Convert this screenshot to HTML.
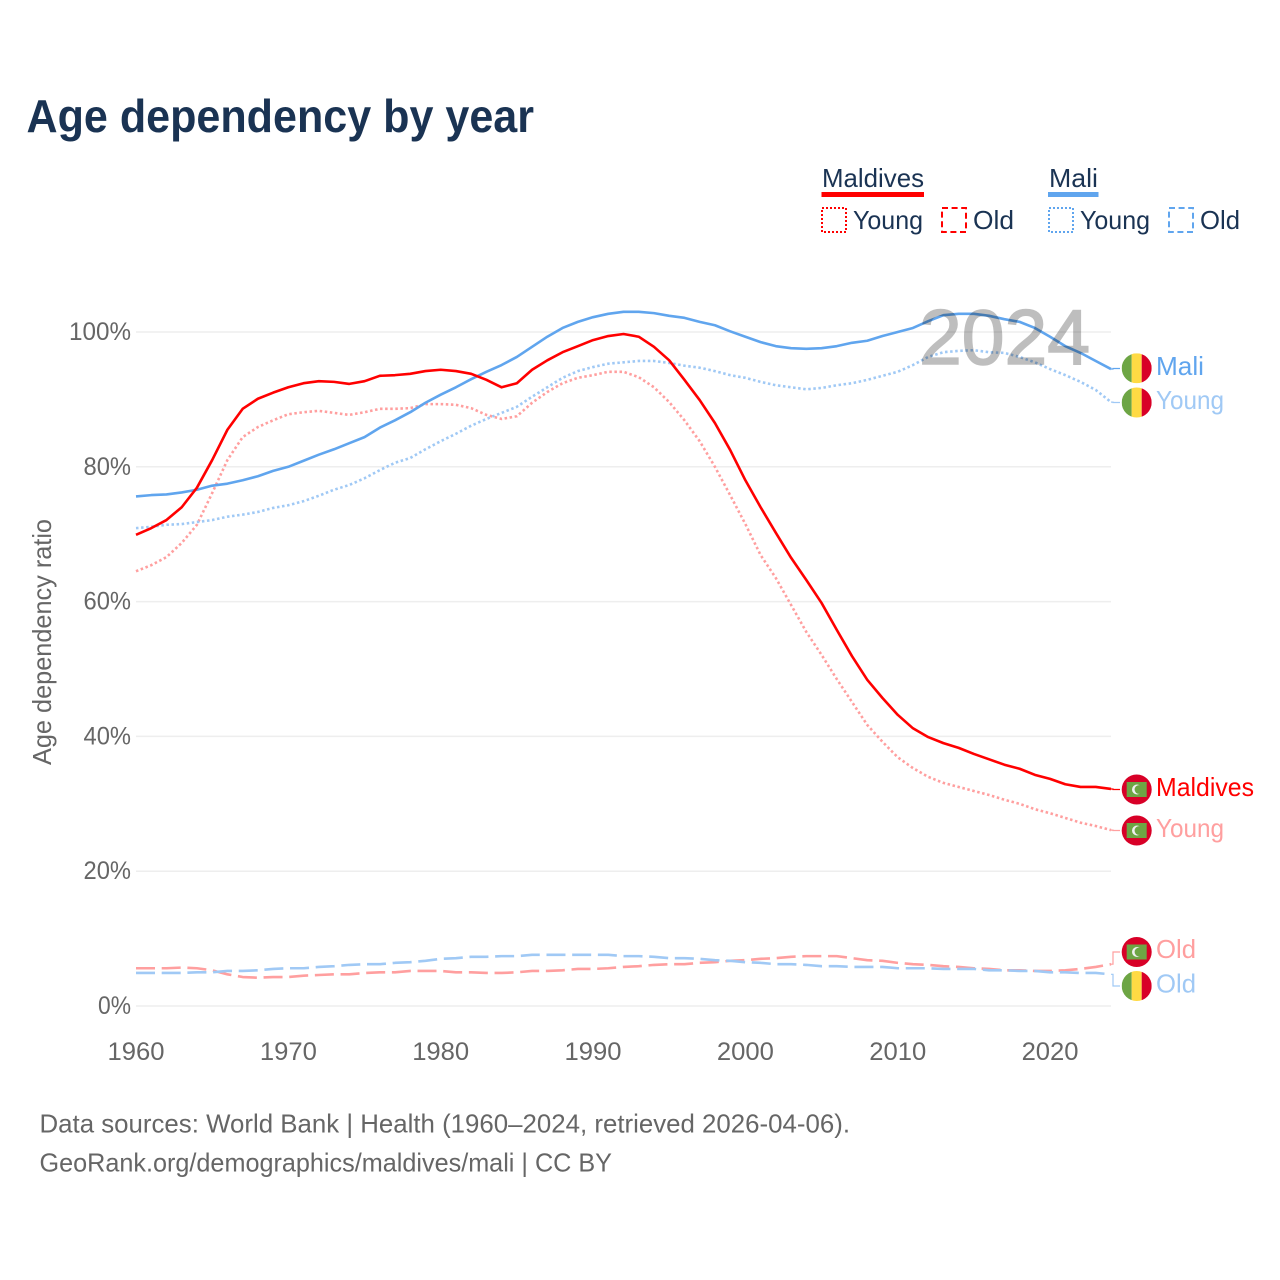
<!DOCTYPE html>
<html lang="en">
<head>
<meta charset="utf-8">
<title>Age dependency by year</title>
<style>
html,body{margin:0;padding:0;background:#fff;}
svg{display:block;font-family:"Liberation Sans",Arial,sans-serif;}
</style>
</head>
<body>
<svg id="chart" xmlns="http://www.w3.org/2000/svg" width="1280" height="1280" viewBox="0 0 1280 1280">
  <defs>
    <symbol id="flag-mali" viewBox="-15 -15 30 30" overflow="visible">
      <clipPath id="flag-clip"><circle cx="0" cy="0" r="15"/></clipPath>
      <g clip-path="url(#flag-clip)">
        <rect x="-15" y="-15" width="10" height="30" fill="#6da544"/>
        <rect x="-5" y="-15" width="10" height="30" fill="#ffda44"/>
        <rect x="5" y="-15" width="10" height="30" fill="#d80027"/>
      </g>
    </symbol>
    <symbol id="flag-maldives" viewBox="-15 -15 30 30" overflow="visible">
      <circle cx="0" cy="0" r="15" fill="#d80027"/>
      <rect x="-10" y="-7.5" width="20" height="15" fill="#6da544"/>
      <circle cx="0.3" cy="0" r="5" fill="#f0f0f0"/>
      <circle cx="2.3" cy="0" r="4.4" fill="#6da544"/>
    </symbol>
  </defs>

  <rect x="0" y="0" width="1280" height="1280" fill="#fff"/>

  <text x="26.5" y="132" font-size="46" font-weight="700" fill="#1a3353" textLength="507.5" lengthAdjust="spacingAndGlyphs">Age dependency by year</text>

  <g font-size="26" fill="#1a3353">
    <text x="822" y="187" textLength="102" lengthAdjust="spacingAndGlyphs">Maldives</text>
    <rect x="821.5" y="192" width="102.5" height="5" fill="#ff0000"/>
    <rect x="822" y="208" width="24" height="24" fill="none" stroke="#ff0000" stroke-width="2" stroke-dasharray="2 2"/>
    <text x="853" y="229" textLength="70" lengthAdjust="spacingAndGlyphs">Young</text>
    <rect x="942" y="208" width="24" height="24" fill="none" stroke="#ff0000" stroke-width="2" stroke-dasharray="6 3.6"/>
    <text x="973" y="229" textLength="41" lengthAdjust="spacingAndGlyphs">Old</text>

    <text x="1049" y="187" textLength="49" lengthAdjust="spacingAndGlyphs">Mali</text>
    <rect x="1048" y="192" width="50.5" height="5" fill="#60a5ee"/>
    <rect x="1049" y="208" width="24" height="24" fill="none" stroke="#60a5ee" stroke-width="2" stroke-dasharray="2 2"/>
    <text x="1080" y="229" textLength="70" lengthAdjust="spacingAndGlyphs">Young</text>
    <rect x="1169" y="208" width="24" height="24" fill="none" stroke="#60a5ee" stroke-width="2" stroke-dasharray="6 3.6"/>
    <text x="1200" y="229" textLength="40" lengthAdjust="spacingAndGlyphs">Old</text>
  </g>

  <g id="grid"></g>
  <g id="ylabels"></g>
  <g id="xlabels"></g>
  <text transform="translate(51,642) rotate(-90)" text-anchor="middle" font-size="26" fill="#666666" textLength="246" lengthAdjust="spacingAndGlyphs">Age dependency ratio</text>

  <g id="series"></g>
  <g id="connectors"></g>

  <g opacity="0.25">
    <text x="919" y="364" font-size="78" font-weight="400" fill="#000000" stroke="#000000" stroke-width="1.6" textLength="171" lengthAdjust="spacingAndGlyphs">2024</text>
  </g>

  <g font-size="26">
    <use href="#flag-mali" x="1121.7" y="353.3" width="30" height="30"/>
    <text x="1156" y="375" fill="#60a5ee" textLength="48" lengthAdjust="spacingAndGlyphs">Mali</text>
    <use href="#flag-mali" x="1121.7" y="387.5" width="30" height="30"/>
    <text x="1156" y="409" fill="#a0c9f5" textLength="68" lengthAdjust="spacingAndGlyphs">Young</text>
    <use href="#flag-maldives" x="1121.7" y="774.5" width="30" height="30"/>
    <text x="1156" y="796" fill="#ff0000" textLength="98" lengthAdjust="spacingAndGlyphs">Maldives</text>
    <use href="#flag-maldives" x="1121.7" y="815.5" width="30" height="30"/>
    <text x="1156" y="837" fill="#ff9f9f" textLength="68" lengthAdjust="spacingAndGlyphs">Young</text>
    <use href="#flag-maldives" x="1121.7" y="937" width="30" height="30"/>
    <text x="1156" y="958" fill="#ff9f9f" textLength="40" lengthAdjust="spacingAndGlyphs">Old</text>
    <use href="#flag-mali" x="1121.7" y="971" width="30" height="30"/>
    <text x="1156" y="992.5" fill="#a0c9f5" textLength="40" lengthAdjust="spacingAndGlyphs">Old</text>
  </g>

  <g font-size="26" fill="#666666">
    <text x="39.5" y="1132.5" textLength="810.5" lengthAdjust="spacingAndGlyphs">Data sources: World Bank | Health (1960–2024, retrieved 2026-04-06).</text>
    <text x="39.5" y="1171.5" textLength="572.5" lengthAdjust="spacingAndGlyphs">GeoRank.org/demographics/maldives/mali | CC BY</text>
  </g>
</svg>

<script>
var startYear = 1960;
var xTickYears = [1960, 1970, 1980, 1990, 2000, 2010, 2020];
var xTickLabels = ["1960", "1970", "1980", "1990", "2000", "2010", "2020"];
var yTickValues = [0, 20, 40, 60, 80, 100];
var yTickLabels = ["0%", "20%", "40%", "60%", "80%", "100%"];

var maldivesTotal = [69.9,70.9,72.1,74.0,76.9,81.0,85.5,88.6,90.1,91.0,91.8,92.4,92.7,92.6,92.3,92.7,93.5,93.6,93.8,94.2,94.4,94.2,93.8,92.9,91.8,92.4,94.4,95.8,97.0,97.9,98.8,99.4,99.7,99.3,97.8,95.8,92.9,89.9,86.5,82.5,78.0,74.0,70.2,66.5,63.2,59.8,55.8,51.9,48.4,45.7,43.2,41.2,39.9,39.0,38.3,37.4,36.6,35.8,35.2,34.3,33.7,32.9,32.5,32.5,32.2];
var maldivesYoung = [64.5,65.4,66.6,68.7,71.4,76.1,81.0,84.4,85.9,86.9,87.8,88.1,88.3,88.0,87.7,88.1,88.6,88.6,88.7,89.3,89.3,89.2,88.7,87.7,87.1,87.5,89.5,91.1,92.4,93.2,93.6,94.1,94.1,93.3,91.8,89.6,86.9,83.8,80.0,75.8,71.5,66.9,63.5,59.5,55.5,52.1,48.5,45.1,41.7,39.2,36.9,35.3,34.0,33.1,32.5,31.9,31.3,30.6,30.0,29.2,28.6,27.9,27.2,26.7,26.1];
var maldivesOld = [5.6,5.6,5.6,5.7,5.6,5.3,4.7,4.3,4.2,4.3,4.3,4.5,4.6,4.7,4.7,4.9,5.0,5.0,5.2,5.2,5.2,5.0,5.0,4.9,4.9,5.0,5.2,5.2,5.3,5.5,5.5,5.6,5.8,5.9,6.1,6.2,6.2,6.4,6.5,6.7,6.8,7.0,7.1,7.3,7.4,7.4,7.4,7.1,6.8,6.7,6.4,6.2,6.1,5.9,5.8,5.6,5.5,5.3,5.3,5.2,5.2,5.3,5.5,5.8,6.2];
var maliTotal = [75.6,75.8,75.9,76.2,76.6,77.2,77.5,78.0,78.6,79.4,80.0,80.9,81.8,82.6,83.5,84.4,85.8,86.9,88.1,89.5,90.7,91.8,93.0,94.1,95.1,96.3,97.8,99.3,100.6,101.5,102.2,102.7,103.0,103.0,102.8,102.4,102.1,101.5,101.0,100.1,99.3,98.5,97.9,97.6,97.5,97.6,97.9,98.4,98.7,99.4,100.0,100.6,101.6,102.5,102.7,102.7,102.4,101.9,101.5,100.6,99.3,97.9,96.9,95.7,94.5];
var maliYoung = [70.9,71.1,71.4,71.5,71.8,72.1,72.6,72.9,73.3,73.9,74.3,74.9,75.7,76.6,77.3,78.3,79.5,80.6,81.3,82.6,83.8,84.9,86.1,87.1,88.0,88.9,90.4,91.8,93.2,94.2,94.8,95.3,95.5,95.7,95.7,95.4,95.0,94.7,94.2,93.6,93.2,92.6,92.1,91.8,91.5,91.7,92.1,92.4,92.9,93.5,94.1,95.1,96.3,97.0,97.2,97.3,97.0,96.9,96.3,95.5,94.5,93.6,92.6,91.4,89.6];
var maliOld = [4.9,4.9,4.9,4.9,5.0,5.0,5.2,5.2,5.3,5.5,5.6,5.6,5.8,5.9,6.1,6.2,6.2,6.4,6.5,6.7,7.0,7.1,7.3,7.3,7.4,7.4,7.6,7.6,7.6,7.6,7.6,7.6,7.4,7.4,7.3,7.1,7.1,7.0,6.8,6.7,6.5,6.4,6.2,6.2,6.1,5.9,5.9,5.8,5.8,5.8,5.6,5.6,5.6,5.5,5.5,5.5,5.3,5.3,5.2,5.2,5.0,5.0,4.9,4.9,4.7];

var SVGNS = "http://www.w3.org/2000/svg";
var plotLeft = 136, plotRight = 1111, zeroY = 1006, hundredY = 332, yearSpan = 64;

function xScale(year) {
  return plotLeft + (year - startYear) * (plotRight - plotLeft) / yearSpan;
}
function yScale(value) {
  return zeroY + value * (hundredY - zeroY) / 100;
}
function make(tag) {
  return document.createElementNS(SVGNS, tag);
}
function linePath(values) {
  var d = "";
  for (var i = 0; i < values.length; i++) {
    d += (i === 0 ? "M" : "L") + xScale(startYear + i).toFixed(2) + " " + yScale(values[i]).toFixed(2);
  }
  return d;
}

var gridGroup = document.getElementById("grid");
var yLabelGroup = document.getElementById("ylabels");
yTickValues.forEach(function (value, i) {
  var line = make("line");
  
  
  line.setAttribute("x1", plotLeft);
  line.setAttribute("x2", plotRight);
  line.setAttribute("y1", yScale(value));
  line.setAttribute("y2", yScale(value));
  line.setAttribute("stroke", "#eeeeee");
  line.setAttribute("stroke-width", "1.5");
  gridGroup.appendChild(line);

  var label = make("text");
  
  
  label.setAttribute("x", 131);
  label.setAttribute("y", yScale(value) + 8);
  label.setAttribute("text-anchor", "end");
  label.setAttribute("font-size", "25");
  label.setAttribute("fill", "#666666");
  label.setAttribute("textLength", yTickLabels[i].length * 14.5 + 4);
  label.setAttribute("lengthAdjust", "spacingAndGlyphs");
  label.textContent = yTickLabels[i];
  yLabelGroup.appendChild(label);
});

var xLabelGroup = document.getElementById("xlabels");
xTickYears.forEach(function (year, i) {
  var label = make("text");
  
  
  label.setAttribute("x", xScale(year));
  label.setAttribute("y", 1060);
  label.setAttribute("text-anchor", "middle");
  label.setAttribute("font-size", "25");
  label.setAttribute("fill", "#666666");
  label.setAttribute("textLength", 57);
  label.setAttribute("lengthAdjust", "spacingAndGlyphs");
  label.textContent = xTickLabels[i];
  xLabelGroup.appendChild(label);
});

function drawSeries(values, name, color, dash) {
  var path = make("path");
  
  
  path.setAttribute("d", linePath(values));
  path.setAttribute("fill", "none");
  path.setAttribute("stroke", color);
  path.setAttribute("stroke-width", "2.6");
  path.setAttribute("stroke-linejoin", "round");
  if (dash) path.setAttribute("stroke-dasharray", dash);
  document.getElementById("series").appendChild(path);
}

var dotted = "2.5 2.6";
var dashed = "19 6.7";
drawSeries(maldivesOld, "line-maldives-old", "#ff9f9f", dashed);
drawSeries(maliOld, "line-mali-old", "#a0c9f5", dashed);
drawSeries(maldivesYoung, "line-maldives-young", "#ff9f9f", dotted);
drawSeries(maliYoung, "line-mali-young", "#a0c9f5", dotted);
drawSeries(maliTotal, "line-mali-total", "#60a5ee", null);
drawSeries(maldivesTotal, "line-maldives-total", "#ff0000", null);

function drawConnector(values, flagY, name, color) {
  var endY = yScale(values[values.length - 1]);
  var path = make("path");
  
  
  path.setAttribute("d", "M" + plotRight + " " + endY.toFixed(2) + "H1113V" + flagY + "H1120");
  path.setAttribute("fill", "none");
  path.setAttribute("stroke", color);
  path.setAttribute("stroke-width", "1.2");
  document.getElementById("connectors").appendChild(path);
}
drawConnector(maliTotal, 368.5, "connector-mali-total", "#60a5ee");
drawConnector(maliYoung, 402.5, "connector-mali-young", "#a0c9f5");
drawConnector(maldivesTotal, 789.5, "connector-maldives-total", "#ff0000");
drawConnector(maldivesYoung, 830.5, "connector-maldives-young", "#ff9f9f");
drawConnector(maldivesOld, 952, "connector-maldives-old", "#ff9f9f");
drawConnector(maliOld, 986, "connector-mali-old", "#a0c9f5");
</script>
</body>
</html>
